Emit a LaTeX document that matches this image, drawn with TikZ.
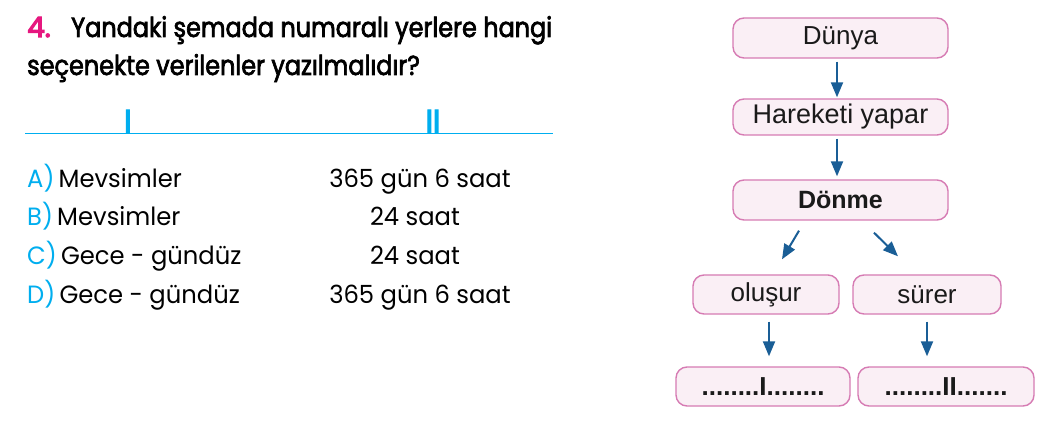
\documentclass[tikz,border=0pt]{standalone}
\usepackage{fontspec}
\setmainfont{Poppins}
\newfontfamily\titlef[FakeBold=2.5,FakeStretch=0.87]{Poppins}
\newfontfamily\numf[FakeBold=4]{Poppins}
\newfontfamily\hdrf[FakeBold=4,FakeStretch=0.9]{Poppins}
\newfontfamily\optf[FakeStretch=0.97]{Poppins}
\newfontfamily\arialf{Liberation Sans}
\usetikzlibrary{arrows.meta,calc}
\definecolor{qpink}{HTML}{E6177F}
\definecolor{qcyan}{HTML}{00AEEF}
\definecolor{bxborder}{HTML}{D67BB3}
\definecolor{bxfill}{HTML}{FAEFF5}
\definecolor{arrblue}{HTML}{1A5E96}
\definecolor{txt}{HTML}{1A1A1A}
\tikzset{
  bx/.style={draw=bxborder,fill=bxfill,line width=1.4pt,rounded corners=11pt,
    inner sep=0pt,font=\arialf\fontsize{26}{30}\selectfont,text=txt},
  dotbx/.style={bx,font=\arialf\bfseries\fontsize{26}{30}\selectfont},
  arr/.style={draw=arrblue,line width=2pt,-{Triangle[length=15pt,width=12pt]}},
  ttl/.style={anchor=base west,inner sep=0pt,font=\titlef\fontsize{27.5}{30}\selectfont},
  opt/.style={anchor=base west,inner sep=0pt,font=\optf\fontsize{25}{30}\selectfont},
  optr/.style={anchor=base,inner sep=0pt,font=\optf\fontsize{25}{30}\selectfont},
  hdr/.style={anchor=base,inner sep=0pt,text=qcyan,font=\hdrf\fontsize{33}{36}\selectfont}
}
\begin{document}
\begin{tikzpicture}[x=1pt,y=-1pt]
\useasboundingbox[fill=white] (0,0) rectangle (1040,427);
% question
\node[ttl,text=qpink,font=\numf\fontsize{28}{30}\selectfont] (num) at (27,37) {4.};
\node[ttl] (t1) at (71,37) {Yandaki şemada numaralı yerlere hangi};
\node[ttl] (t2) at (27,75) {seçenekte verilenler yazılmalıdır?};
\coordinate (hl) at (25,134);
\coordinate (hr) at (553,134);
\draw[qcyan,line width=1pt] (hl) -- (hr);
\node[hdr] (hI) at (128,133) {I};
\node[hdr] (hII) at (433,133) {II};
% options
\node[opt] (oa) at (27,188) {\textcolor{qcyan}{A)}\,Mevsimler};
\node[opt] (ob) at (27,226) {\textcolor{qcyan}{B)}\,Mevsimler};
\node[opt] (oc) at (27,265) {\textcolor{qcyan}{C)}\,Gece - gündüz};
\node[opt] (od) at (27,303) {\textcolor{qcyan}{D)}\,Gece - gündüz};
\node[optr] (ra) at (420,188) {365 gün 6 saat};
\node[optr] (rb) at (415,226) {24 saat};
\node[optr] (rc) at (415,265) {24 saat};
\node[optr] (rd) at (420,303) {365 gün 6 saat};
% diagram
\node[bx,minimum width=215pt,minimum height=40pt] (d) at (840.5,38) {Dünya};
\node[bx,minimum width=215pt,minimum height=36pt,font=\arialf\fontsize{27}{30}\selectfont] (h) at (840.5,117) {Hareketi yapar};
\node[bx,minimum width=215pt,minimum height=40pt,font=\arialf\bfseries\fontsize{25}{30}\selectfont] (dn) at (840.5,200) {Dönme};
\node[bx,minimum width=146pt,minimum height=39pt] (ol) at (766,294.5) {oluşur};
\node[bx,minimum width=148pt,minimum height=39pt] (su) at (927,294.5) {sürer};
\node[dotbx,minimum width=174pt,minimum height=39pt] (b1) at (763,386.5) {........I........};
\node[dotbx,minimum width=176pt,minimum height=39pt] (b2) at (946,386.5) {........II.......};
\draw[arr] ($(d.south)+(-3.5,3)$) -- ($(h.north)+(-3.5,-1)$);
\draw[arr] ($(h.south)+(-3.5,3)$) -- ($(dn.north)+(-3.5,-3)$);
\draw[arr] ($(dn.south)+(-41.5,10)$) -- ($(ol.north)+(16,-15)$);
\draw[arr] ($(dn.south)+(33.5,12)$) -- ($(su.north)+(-29,-18)$);
\draw[arr] ($(ol.south)+(3,7)$) -- ($(b1.north)+(6,-10)$);
\draw[arr] ($(su.south)+(0,7)$) -- ($(b2.north)+(-19,-10)$);
\end{tikzpicture}
\end{document}
